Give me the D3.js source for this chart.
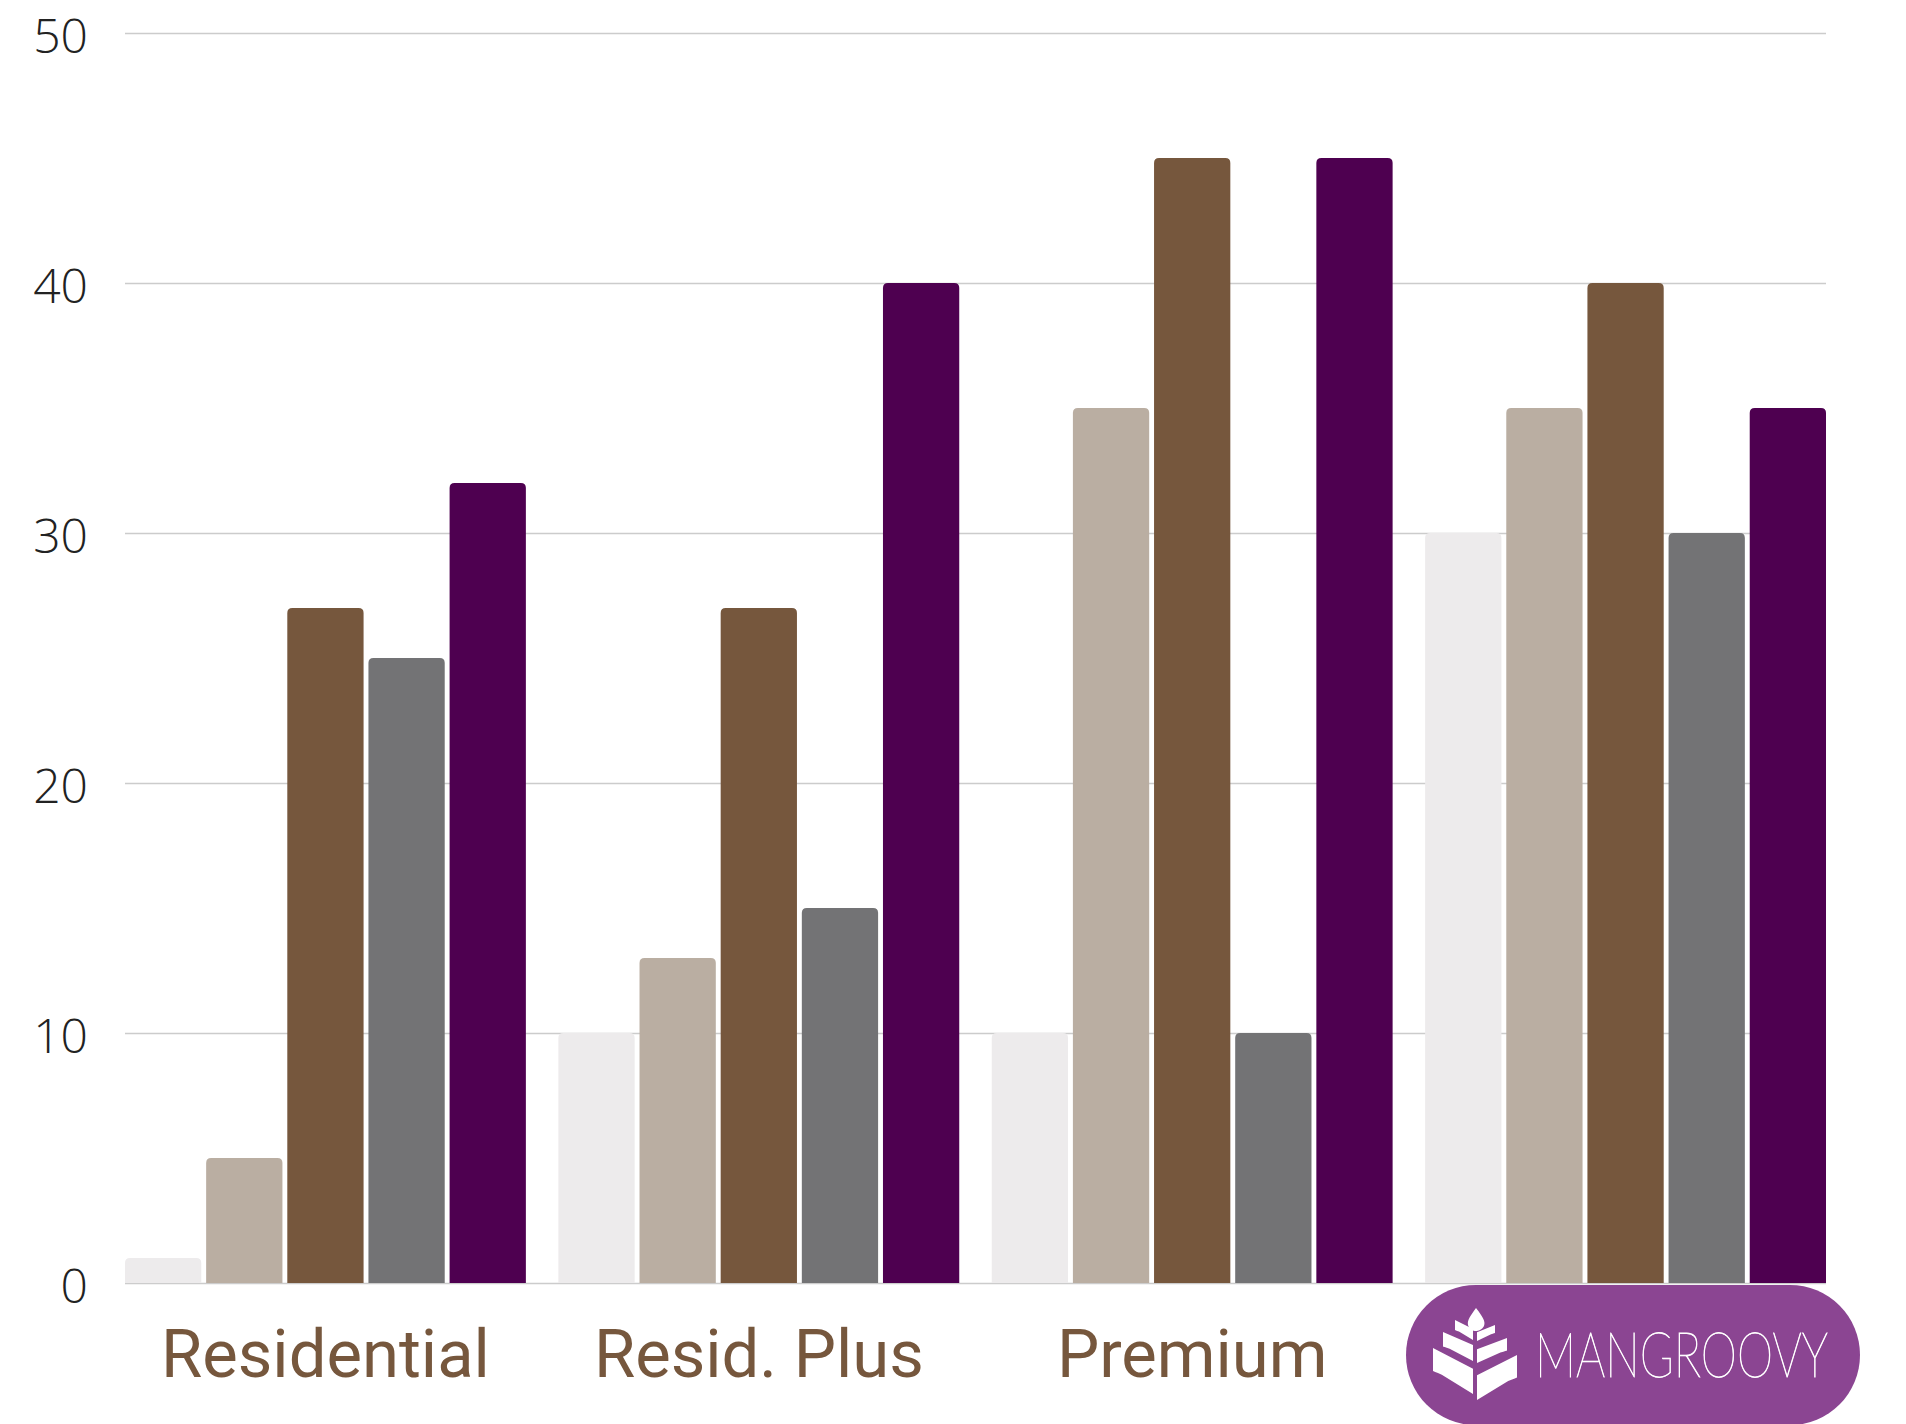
<!DOCTYPE html>
<html>
<head>
<meta charset="utf-8" />
<script src="https://d3js.org/d3.v7.min.js"></script>
<style>
  body { margin: 0; background: #fff; }
  svg { display: block; }
</style>
</head>
<body>
<div id="visu"></div>
<script>
// Catégories (la 4e est cachée par le logo)
const categories = ["Residential", "Resid. Plus", "Premium", ""];

// Valeurs par série (une valeur par catégorie)
const serie1 = [1, 10, 10, 30];
const serie2 = [5, 13, 35, 35];
const serie3 = [27, 27, 45, 40];
const serie4 = [25, 15, 10, 30];
const serie5 = [32, 40, 45, 35];
const series = [serie1, serie2, serie3, serie4, serie5];

const couleurs = ["#edebec", "#baaea2", "#76573d", "#737375", "#4e0050"];
const yTicks = [0, 10, 20, 30, 40, 50];

const width = 1906, height = 1424;
const margeGauche = 125, margeDroite = 1826, margeHaut = 33, margeBas = 1283;

const svg = d3.select("#visu").append("svg")
    .attr("width", width)
    .attr("height", height);

// Echelles
const x0 = d3.scaleBand()
    .domain(d3.range(categories.length))
    .range([margeGauche, margeDroite])
    .paddingInner(0.075)
    .paddingOuter(0);

const x1 = d3.scaleBand()
    .domain(d3.range(series.length))
    .range([0, x0.bandwidth()])
    .paddingInner(0.06);

const y = d3.scaleLinear()
    .domain([0, 50])
    .range([margeBas, margeHaut]);

// Grille + labels de l'axe Y
const yAxis = svg.append("g")
    .attr("transform", `translate(${margeGauche},0)`)
    .call(d3.axisLeft(y)
        .tickValues(yTicks)
        .tickSize(-(margeDroite - margeGauche))
        .tickPadding(37));

yAxis.select(".domain").remove();
yAxis.selectAll(".tick line")
    .attr("stroke", "#cccccc")
    .attr("stroke-width", 1.5);
yAxis.selectAll(".tick text")
    .attr("fill", "#222")
    .attr("dy", "0.4em")
    .style("font-family", "'Open Sans', sans-serif")
    .style("font-weight", 300)
    .style("font-size", "48px");

// Barre avec coins du haut arrondis
function barPath(x, y0, w, h, r) {
    r = Math.min(r, h, w / 2);
    return `M${x},${y0 + h} L${x},${y0 + r} Q${x},${y0} ${x + r},${y0}
            L${x + w - r},${y0} Q${x + w},${y0} ${x + w},${y0 + r}
            L${x + w},${y0 + h} Z`;
}

const groupes = svg.append("g")
    .selectAll("g")
    .data(d3.range(categories.length))
    .enter().append("g")
    .attr("transform", i => `translate(${x0(i)},0)`);

groupes.selectAll("path")
    .data(i => series.map((s, k) => ({ k, value: s[i] })))
    .enter().append("path")
    .attr("d", d => barPath(x1(d.k), y(d.value), x1.bandwidth(), y(0) - y(d.value), 5))
    .attr("fill", d => couleurs[d.k]);

// Labels des catégories
svg.append("g")
    .selectAll("text")
    .data(d3.range(categories.length).filter(i => categories[i] !== ""))
    .enter().append("text")
    .attr("x", i => x0(i) + x0.bandwidth() / 2)
    .attr("y", 1377)
    .attr("text-anchor", "middle")
    .attr("fill", "#76573d")
    .style("font-family", "Roboto, sans-serif")
    .style("font-size", "67px")
    .text(i => categories[i]);

// Logo Mangroovy
const logo = svg.append("g");
logo.append("rect")
    .attr("x", 1406).attr("y", 1285)
    .attr("width", 454).attr("height", 140)
    .attr("rx", 70)
    .attr("fill", "#8b4592");

const icone = logo.append("g").attr("fill", "#fff");
// goutte du haut
icone.append("path")
    .attr("d", "M1476,1308 C1482,1316 1486,1321 1484,1326 C1482,1330 1478,1331 1476,1331 C1473,1331 1469,1329 1468,1325 C1467,1320 1471,1315 1476,1308 Z");

function feuille(xa, ya, xb, yb, gauche) {
    const w = xb - xa, h = yb - ya;
    if (gauche) {
        return `M${xa},${ya} L${xb},${ya + 0.45 * h} L${xb},${yb}
                L${xa + 0.22 * w},${yb - 0.42 * h} Q${xa},${yb - 0.5 * h} ${xa},${ya + 0.5 * h} Z`;
    }
    return `M${xb},${ya} L${xa},${ya + 0.45 * h} L${xa},${yb}
            L${xb - 0.22 * w},${yb - 0.42 * h} Q${xb},${yb - 0.5 * h} ${xb},${ya + 0.5 * h} Z`;
}
const feuilles = [
    [1455, 1320, 1473, 1340, true], [1477, 1325, 1495, 1341, false],
    [1443, 1332, 1473, 1361, true], [1477, 1338, 1507, 1363, false],
    [1433, 1348, 1473, 1394, true], [1477, 1355, 1517, 1400, false]
];
feuilles.forEach(f => icone.append("path").attr("d", feuille(...f)));

// Texte du logo : police fine, compressée horizontalement pour tenir dans 293px
const logoTexteG = logo.append("g");
const logoTexte = logoTexteG.append("text")
    .attr("x", 0).attr("y", 0)
    .attr("fill", "#fff")
    .attr("stroke", "#fff")
    .attr("stroke-width", 0.9)
    .style("font-family", "Lato, sans-serif")
    .style("font-weight", 100)
    .style("font-size", "62px")
    .text("MANGROOVY");
const largeur = logoTexte.node().getComputedTextLength();
logoTexteG.attr("transform", `translate(1535,1377) scale(${293 / largeur},1)`);
</script>
</body>
</html>
